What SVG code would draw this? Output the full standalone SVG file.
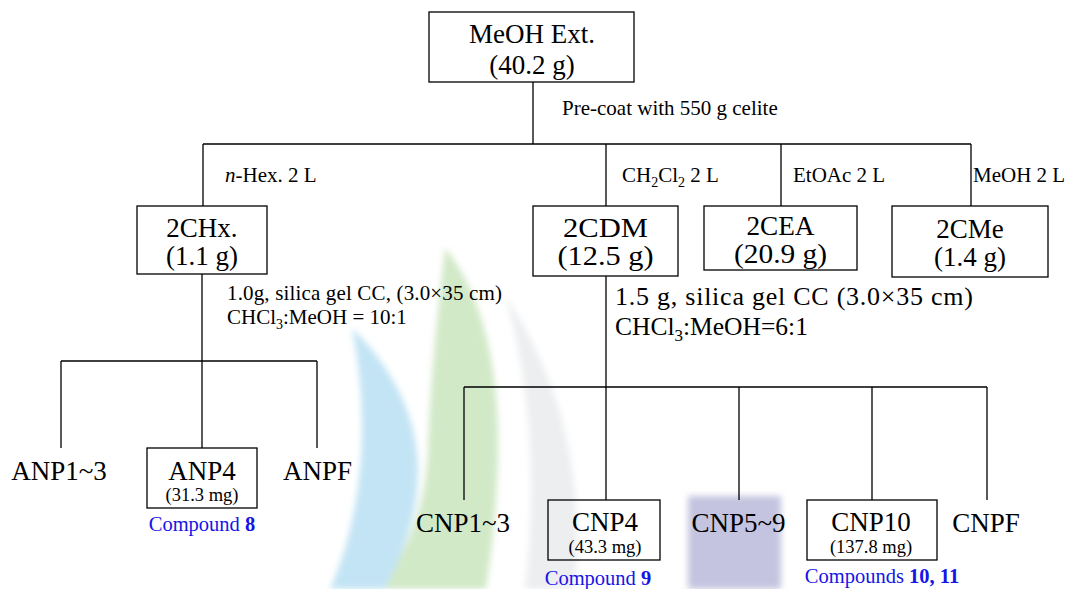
<svg xmlns="http://www.w3.org/2000/svg" width="1070" height="589" viewBox="0 0 1070 589">
<style>
text{font-family:"Liberation Serif","Times New Roman",serif;fill:#000}
.box{fill:none;stroke:#000;stroke-width:1.3}
.ln{stroke:#000;stroke-width:1.3;fill:none}
.bt{font-size:27px;text-anchor:middle}
.lb{font-size:21px}
.mg{font-size:18.5px;text-anchor:middle}
.cp{font-size:20.5px;text-anchor:middle;fill:#1515e6}
.cp tspan{fill:#1515e6}
</style>
<defs>
<filter id="soft" x="-20%" y="-20%" width="140%" height="140%"><feGaussianBlur stdDeviation="3"/></filter>
</defs>
<rect width="1070" height="589" fill="#fff"/>
<g id="watermark" filter="url(#soft)">
<path d="M445,248 C480,290 498,360 498,440 C498,500 492,550 486,589 L380,589 C400,560 425,520 428,450 C430,380 438,310 445,248 Z" fill="#d2e9c8"/>
<path d="M352,328 C395,370 418,420 418,470 C418,520 400,560 385,589 L330,589 C352,540 362,480 362,430 C362,390 358,360 352,328 Z" fill="#c3e4f4"/>
<path d="M505,295 C560,380 585,470 575,589 L525,589 C538,480 530,380 505,295 Z" fill="#eceef0"/>
<rect x="688" y="496" width="93" height="93" fill="#c4c4e0"/>
</g>
<g id="connectors">
<path class="ln" d="M533,82 V144 M203,144 H971 M203,144 V206 M606,144 V206 M781,144 V206 M971,144 V206"/>
<path class="ln" d="M202,274 V448 M61,361 H317 M61,361 V448 M317,361 V448"/>
<path class="ln" d="M606,276 V500 M464,387 H987 M464,387 V500 M739,387 V500 M872,387 V500 M987,387 V500"/>
</g>
<g id="labels">
<text class="lb" x="562" y="115">Pre-coat with 550 g celite</text>
<text class="lb" x="225" y="182"><tspan font-style="italic">n</tspan>-Hex. 2 L</text>
<text class="lb" x="622" y="182">CH<tspan font-size="14" dy="5">2</tspan><tspan dy="-5">Cl</tspan><tspan font-size="14" dy="5">2</tspan><tspan dy="-5"> 2 L</tspan></text>
<text class="lb" x="793" y="182">EtOAc 2 L</text>
<text class="lb" x="973" y="182">MeOH 2 L</text>
<text class="lb" x="227" y="300" textLength="275">1.0g, silica gel CC, (3.0×35 cm)</text>
<text class="lb" x="227" y="324">CHCl<tspan font-size="14" dy="5">3</tspan><tspan dy="-5">:MeOH = 10:1</tspan></text>
<text x="615" y="305" font-size="26" textLength="358">1.5 g, silica gel CC (3.0×35 cm)</text>
<text x="615" y="335" font-size="25.5">CHCl<tspan font-size="17" dy="6">3</tspan><tspan dy="-6">:MeOH=6:1</tspan></text>
</g>
<g id="n-meoh">
<rect class="box" x="429" y="12" width="205" height="70"/>
<text class="bt" x="532" y="43" font-size="27.5">MeOH Ext.</text>
<text class="bt" x="532" y="74" font-size="28">(40.2 g)</text>
</g>
<g id="n-2chx">
<rect class="box" x="137" y="206" width="130" height="68"/>
<text class="bt" x="202" y="237">2CHx.</text>
<text class="bt" x="202" y="265">(1.1 g)</text>
</g>
<g id="n-2cdm">
<rect class="box" x="533" y="206" width="145" height="70"/>
<text class="bt" x="605.5" y="237" textLength="85" lengthAdjust="spacingAndGlyphs">2CDM</text>
<text class="bt" x="605.5" y="265" textLength="96" lengthAdjust="spacingAndGlyphs">(12.5 g)</text>
</g>
<g id="n-2cea">
<rect class="box" x="704" y="206" width="153" height="64"/>
<text class="bt" x="780.5" y="235" font-size="25.5" textLength="68" lengthAdjust="spacingAndGlyphs">2CEA</text>
<text class="bt" x="780.5" y="263" font-size="25.5" textLength="93" lengthAdjust="spacingAndGlyphs">(20.9 g)</text>
</g>
<g id="n-2cme">
<rect class="box" x="892" y="206" width="156" height="71"/>
<text class="bt" x="970" y="238">2CMe</text>
<text class="bt" x="970" y="266">(1.4 g)</text>
</g>
<g id="n-anp13"><text class="bt" x="59" y="480">ANP1~3</text></g>
<g id="n-anp4">
<rect class="box" x="147" y="448" width="110" height="60"/>
<text class="bt" x="202" y="480" font-size="26">ANP4</text>
<text class="mg" x="202" y="501">(31.3 mg)</text>
<text class="cp" x="202" y="531">Compound <tspan font-weight="bold">8</tspan></text>
</g>
<g id="n-anpf"><text class="bt" x="317.5" y="480">ANPF</text></g>
<g id="n-cnp13"><text class="bt" x="463" y="532">CNP1~3</text></g>
<g id="n-cnp4">
<rect class="box" x="548" y="500" width="112" height="60"/>
<text class="bt" x="605" y="531">CNP4</text>
<text class="mg" x="605" y="552.5">(43.3 mg)</text>
<text class="cp" x="598" y="585">Compound <tspan font-weight="bold">9</tspan></text>
</g>
<g id="n-cnp59"><text class="bt" x="738.5" y="532">CNP5~9</text></g>
<g id="n-cnp10">
<rect class="box" x="807" y="500" width="130" height="60"/>
<text class="bt" x="871" y="531">CNP10</text>
<text class="mg" x="871" y="552.5">(137.8 mg)</text>
<text class="cp" x="882" y="583">Compounds <tspan font-weight="bold">10, 11</tspan></text>
</g>
<g id="n-cnpf"><text class="bt" x="986" y="532">CNPF</text></g>
</svg>
